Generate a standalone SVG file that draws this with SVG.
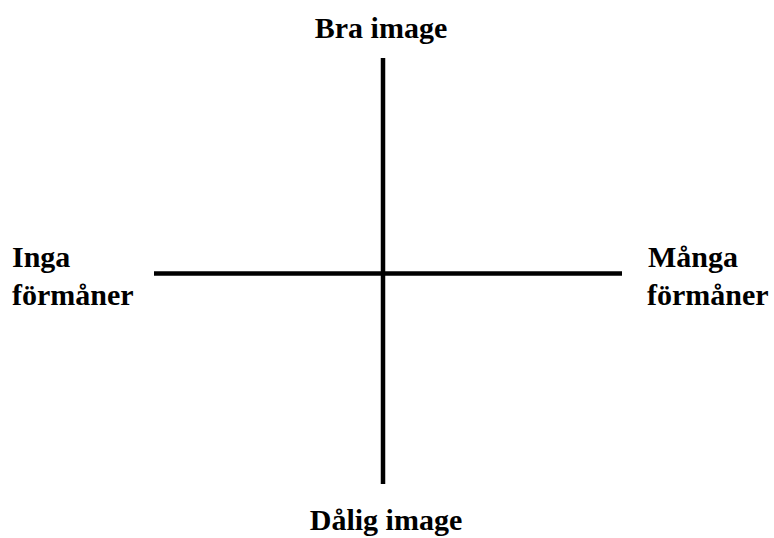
<svg xmlns="http://www.w3.org/2000/svg" width="774" height="538" viewBox="0 0 774 538">
<style>
.t{font-family:"Liberation Serif","Times New Roman",serif;font-weight:bold;font-size:30px;fill:#000}
.ax{stroke:#000;stroke-width:4.5;fill:none}
</style>
<rect width="774" height="538" fill="#fff"/>
<g id="connectors">
<line class="ax" x1="383" y1="58" x2="383" y2="484"/>
<line class="ax" x1="154" y1="273.5" x2="622" y2="273.5"/>
</g>
<g id="top"><text class="t" x="381" y="38" text-anchor="middle">Bra image</text></g>
<g id="bottom"><text class="t" x="386" y="530" text-anchor="middle">Dålig image</text></g>
<g id="left"><text class="t" x="12" y="267">Inga</text><text class="t" x="12" y="305">förmåner</text></g>
<g id="right"><text class="t" x="648" y="267">Många</text><text class="t" x="647" y="305">förmåner</text></g>
</svg>
